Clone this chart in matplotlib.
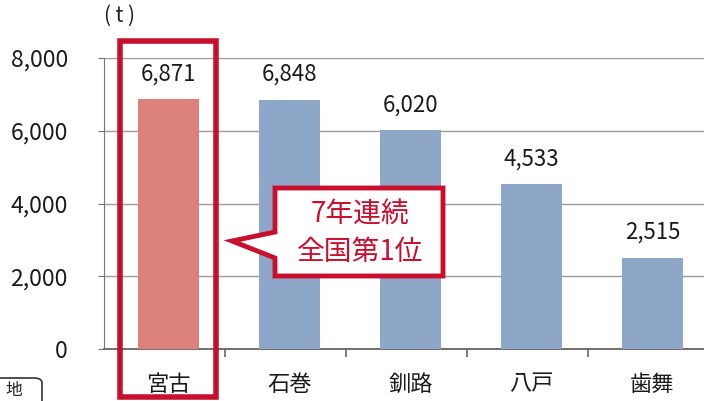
import matplotlib
matplotlib.use("Agg")
import matplotlib.pyplot as plt
from matplotlib.patches import Polygon, FancyBboxPatch

plt.rcParams['font.family'] = ['Noto Sans CJK JP', 'DejaVu Sans']

categories = ['宮古', '石巻', '釧路', '八戸', '歯舞']
values = [6871, 6848, 6020, 4533, 2515]
value_labels = ['6,871', '6,848', '6,020', '4,533', '2,515']
yticks = [0, 2000, 4000, 6000, 8000]
ytick_labels = ['0', '2,000', '4,000', '6,000', '8,000']
callout_lines = ['7年連続', '全国第1位']
unit_label = '( t )'

W, H = 704, 401
fig = plt.figure(figsize=(W / 100, H / 100), dpi=100)
fig.patch.set_facecolor('white')

def px(x, y):
    return x / W, 1 - y / H

ax_left, ax_right = 104, 704
y0_px, y8_px = 349, 58
off = 4 / 121
ax = fig.add_axes([ax_left / W, 1 - y0_px / H, (ax_right - ax_left) / W, (y0_px - y8_px) / H])
ax.set_xlim(-0.5 - off, -0.5 - off + (ax_right - ax_left) / 121)
ax.set_ylim(0, 8000)

red_bar = '#dc817c'
blue_bar = '#8ea7c9'
crimson = '#c8102e'
colors = [red_bar] + [blue_bar] * (len(values) - 1)

ax.bar(range(len(values)), values, width=0.5, color=colors, zorder=3)
for i, (v, lab) in enumerate(zip(values, value_labels)):
    ax.text(i, v + 380, lab, ha='center', va='bottom', fontsize=16, color='#1a1a1a', zorder=4)

ax.set_yticks(yticks)
ax.set_yticklabels(ytick_labels, fontsize=16.5, color='#1a1a1a')
ax.set_xticks(range(len(categories)))
ax.set_xticklabels(categories, fontsize=16, color='#1a1a1a')
ax.tick_params(axis='x', length=0, pad=17)
ax.tick_params(axis='y', length=4, color='#777777', pad=22)
ax.set_xticks([i + 0.5 - off for i in range(len(categories) - 1)], minor=True)
ax.tick_params(axis='x', which='minor', length=6, color='#666666', width=1.2)
ax.grid(axis='y', color='#9a9a9a', linewidth=1.0, zorder=0)
for s in ['top', 'right']:
    ax.spines[s].set_visible(False)
ax.spines['left'].set_color('#777777')
ax.spines['bottom'].set_color('#666666')
ax.spines['bottom'].set_linewidth(1.3)

# unit label
fig.text(*px(119, 16), unit_label, ha='center', va='center', fontsize=15, color='#222222')

# red highlight box around first bar (pixel coordinates)
x0, x1, yt, yb = 120, 216, 41, 397
ax_box = Polygon([px(x0, yt), px(x1, yt), px(x1, yb), px(x0, yb)], closed=True,
                 transform=fig.transFigure, fill=False, edgecolor=crimson, linewidth=4,
                 joinstyle='miter', zorder=5)
fig.patches.append(ax_box)

# callout bubble
pts = [(275, 188), (443, 188), (443, 276), (275, 276), (275, 258), (232, 241), (275, 232)]
poly = Polygon([px(x, y) for x, y in pts], closed=True, transform=fig.transFigure,
               facecolor='white', edgecolor=crimson, linewidth=3.5, zorder=10, joinstyle='miter')
fig.patches.append(poly)
fig.text(*px(360, 215), callout_lines[0], ha='center', va='center', fontsize=20, color=crimson, zorder=11)
fig.text(*px(360, 252), callout_lines[1], ha='center', va='center', fontsize=20, color=crimson, zorder=11)

# partial box at bottom-left (cut off in scan)
fb = FancyBboxPatch(px(-20, 405), 62 / W, 27 / H, boxstyle='round,pad=0,rounding_size=0.012',
                    transform=fig.transFigure, facecolor='none', edgecolor='#333333', linewidth=1.2)
fig.patches.append(fb)
fig.text(*px(14, 391), '地', ha='center', va='center', fontsize=12, color='#222222')

fig.savefig('out.png', dpi=100)
